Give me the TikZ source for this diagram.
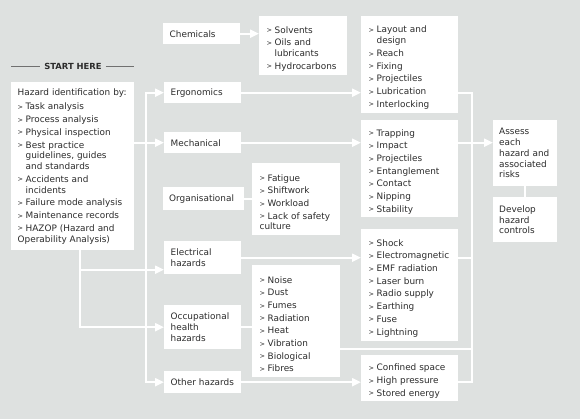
\documentclass[tikz,border=0pt]{standalone}
\usepackage{fontspec}
\setmainfont{DejaVu Sans}
\usetikzlibrary{arrows.meta, positioning, calc}
\definecolor{PanelGrey}{HTML}{DEE1E0}
\definecolor{InkGrey}{HTML}{2C2C2C}
\definecolor{RuleGrey}{HTML}{707070}

% list marker and list entry with hanging indent
\newcommand{\mkr}{\makebox[8pt][l]{\fontsize{6.5}{6.5}\selectfont\raisebox{0.4pt}{>}}}
\newcommand{\itm}[1]{\par\vspace{1.9pt}\hangindent=8pt\hangafter=1\noindent\mkr#1}

\begin{document}
\begin{tikzpicture}[x=1pt, y=-1pt, >={Triangle[length=9pt, width=8pt]},
  hbox/.style={fill=white, text=InkGrey, anchor=north west, align=left,
    inner ysep=0pt, font=\fontsize{8.9}{10.8}\selectfont},
  group/.style={hbox, inner xsep=6.5pt, text width=64pt},
  listbox/.style={hbox, inner xsep=7.5pt},
  link/.style={draw=white, line width=2pt}]
  \fill[PanelGrey] (0,0) rectangle (580,419);
  \useasboundingbox (0,0) rectangle (580,419);

  % Start here
  \node[hbox, inner xsep=6.5pt, text width=110pt, minimum height=168pt] (haz) at (11,82)
    {Hazard identification by:\par\vspace{2pt}
     \itm{Task analysis}\itm{Process analysis}\itm{Physical inspection}
     \itm{Best practice\newline guidelines, guides\newline and standards}
     \itm{Accidents and\newline incidents}\itm{Failure mode analysis}
     \itm{Maintenance records}\itm{HAZOP (Hazard and\newline Operability Analysis)}};
  \node[text=InkGrey, inner xsep=4pt, font=\bfseries\fontsize{8.4}{10}\selectfont] (start) at (73,66) {START HERE};
  \draw[RuleGrey, line width=0.8pt] (haz.west |- start) -- (start.west);
  \draw[RuleGrey, line width=0.8pt] (start.east) -- (haz.east |- start);

  % Hazard groups
  \node[group, minimum height=21pt] (chem) at (163,23) {Chemicals};
  \node[group, minimum height=21pt] (ergo) at (164,82) {Ergonomics};
  \node[group, minimum height=21pt] (mech) at (164,132) {Mechanical};
  \node[group, inner xsep=6pt, text width=69pt, minimum height=23pt] (org) at (163,187) {Organisational};
  \node[group, minimum height=33pt] (elec) at (164,241) {Electrical\newline hazards};
  \node[group, minimum height=44pt] (occ) at (164,305) {Occupational\newline health\newline hazards};
  \node[group, minimum height=22pt] (other) at (164,371) {Other hazards};

  % Lists
  \node[listbox, text width=73pt, minimum height=59pt] (chemL) at (259,16)
    {\itm{Solvents}\itm{Oils and\newline lubricants}\itm{Hydrocarbons}};
  \node[listbox, text width=82pt, minimum height=97pt] (ergoL) at (361,16)
    {\itm{Layout and\newline design}\itm{Reach}\itm{Fixing}\itm{Projectiles}\itm{Lubrication}\itm{Interlocking}};
  \node[listbox, text width=82pt, minimum height=97pt] (mechL) at (361,120)
    {\itm{Trapping}\itm{Impact}\itm{Projectiles}\itm{Entanglement}\itm{Contact}\itm{Nipping}\itm{Stability}};
  \node[listbox, text width=73pt, minimum height=72pt] (orgL) at (252,163)
    {\itm{Fatigue}\itm{Shiftwork}\itm{Workload}\itm{Lack of safety\newline culture}};
  \node[listbox, text width=82pt, minimum height=112pt] (elecL) at (361,229)
    {\itm{Shock}\itm{Electromagnetic}\itm{EMF radiation}\itm{Laser burn}\itm{Radio supply}\itm{Earthing}\itm{Fuse}\itm{Lightning}};
  \node[listbox, text width=73pt, minimum height=112pt] (occL) at (252,265)
    {\itm{Noise}\itm{Dust}\itm{Fumes}\itm{Radiation}\itm{Heat}\itm{Vibration}\itm{Biological}\itm{Fibres}};
  \node[listbox, text width=82pt, minimum height=46pt] (otherL) at (361,355)
    {\itm{Confined space}\itm{High pressure}\itm{Stored energy}};

  % Assessment
  \node[hbox, inner xsep=6pt, text width=52pt, minimum height=66pt] (assess) at (493,120)
    {Assess\newline each\newline hazard and\newline associated\newline risks};
  \node[hbox, inner xsep=6pt, text width=52pt, minimum height=45pt] (develop) at (493,197)
    {Develop\newline hazard\newline controls};

  % feeds from the hazard identification box
  \coordinate (bus) at ([xshift=12]haz.east |- other.west);
  \draw[link, <->] (ergo.west) -| (bus) -- (other.west);
  \draw[link, ->] (haz.east |- mech.west) -- (mech.west);
  \coordinate (trunk) at ([xshift=7]haz.south);
  \draw[link, ->] (trunk) |- ([yshift=-12]elec.west);
  \draw[link, ->] (trunk) |- (occ.west);

  % groups to their lists
  \draw[link, ->] (chem.east) -- (chemL.west |- chem.east);
  \draw[link, ->] (ergo.east) -- (ergoL.west |- ergo.east);
  \draw[link, ->] (mech.east) -- (mechL.west |- mech.east);
  \draw[link] (org.east) -- (orgL.west |- org.east);
  \draw[link, ->] (elec.east) -- (elecL.west |- elec.east);
  \draw[link] (occ.east) -- (occL.west |- occ.east);
  \draw[link, ->] (other.east) -- (otherL.west |- other.east);

  % lists to the assessment
  \coordinate (rtop) at ([xshift=14]ergoL.east |- ergo.east);
  \draw[link] (ergoL.east |- rtop) -- (rtop) -- (rtop |- other.east) -- (otherL.east |- other.east);
  \draw[link, ->] (mechL.east |- mech.east) -- (assess.west |- mech.east);
  \draw[link] (elecL.east |- elec.east) -- (rtop |- elec.east);
  \draw[link] (occL.east |- occ.south) -- (rtop |- occ.south);
  \draw[link] (assess.south) -- (develop.north);
\end{tikzpicture}
\end{document}
